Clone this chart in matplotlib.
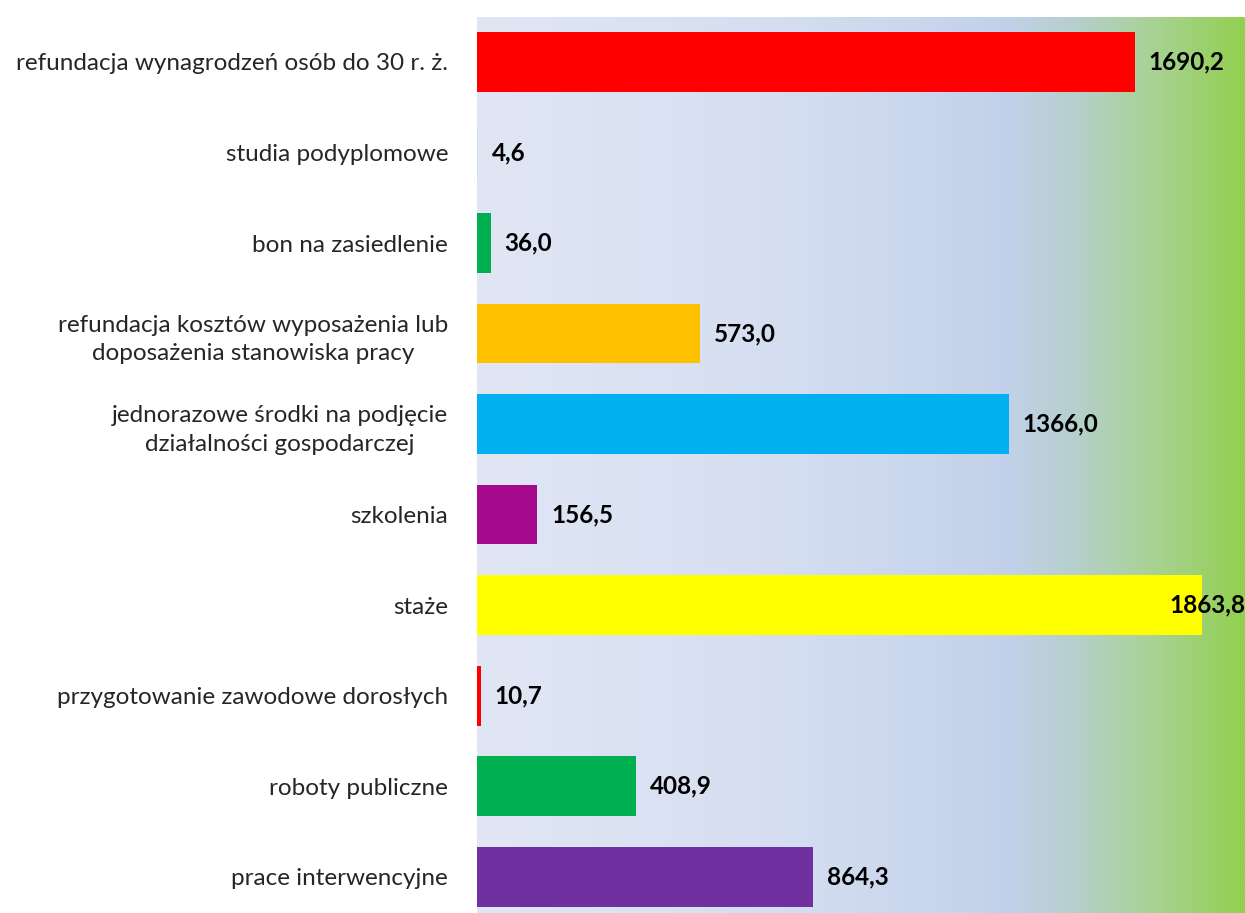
import numpy as np
import matplotlib
matplotlib.use("Agg")
import matplotlib.pyplot as plt
from matplotlib.colors import LinearSegmentedColormap

categories = [
    "refundacja wynagrodzeń osób do 30 r. ż.",
    "studia podyplomowe",
    "bon na zasiedlenie",
    "refundacja kosztów wyposażenia lub\ndoposażenia stanowiska pracy",
    "jednorazowe środki na podjęcie\ndziałalności gospodarczej",
    "szkolenia",
    "staże",
    "przygotowanie zawodowe dorosłych",
    "roboty publiczne",
    "prace interwencyjne",
]
values = [1690.2, 4.6, 36.0, 573.0, 1366.0, 156.5, 1863.8, 10.7, 408.9, 864.3]
value_labels = ["1690,2", "4,6", "36,0", "573,0", "1366,0", "156,5", "1863,8", "10,7", "408,9", "864,3"]
colors = ["#ff0000", "#d6dff1", "#00b050", "#ffc000", "#00b0f0",
          "#a50a8e", "#ffff00", "#ff0000", "#00b050", "#7030a0"]

plt.rcParams['font.family'] = ['Lato', 'DejaVu Sans']

fig = plt.figure(figsize=(12.45, 9.13), dpi=100)
W, H = 1245, 913
left_px, top_px, right_px, bottom_px = 476.5, 16.7, 1245, 922
ax = fig.add_axes([left_px / W, 1 - bottom_px / H,
                   (right_px - left_px) / W, (bottom_px - top_px) / H])

xmax = (right_px - left_px) / 0.3895
ax.set_xlim(0, xmax)
ax.set_ylim(len(categories) - 0.5, -0.5)

# gradient background
cmap = LinearSegmentedColormap.from_list("bg", [
    (0.0, "#e0e6f4"),
    (0.40, "#d5def1"),
    (0.69, "#c2d1ea"),
    (0.78, "#b6cfcc"),
    (0.87, "#aad29a"),
    (1.0, "#92d050"),
])
grad = np.linspace(0, 1, 512).reshape(1, -1)
ax.imshow(grad, cmap=cmap, aspect="auto", extent=[0, xmax, len(categories) - 0.5, -0.5],
          zorder=0, interpolation="bilinear")

y = np.arange(len(categories))
ax.barh(y, values, height=0.66, color=colors, zorder=2)

fs = 17.5
pad = 14 / 0.3895
for yi, v, lab in zip(y, values, value_labels):
    x = v + pad
    if x + 80 / 0.3895 > xmax:
        ax.text(xmax, yi, lab, ha="right", va="center", fontsize=fs,
                fontweight="bold", color="#000000", zorder=3)
    else:
        ax.text(x, yi, lab, ha="left", va="center", fontsize=fs,
                fontweight="bold", color="#000000", zorder=3)

ax.set_yticks(y)
ax.set_yticklabels(categories, fontsize=fs, color="#262626", multialignment="center",
                   linespacing=1.45)
ax.tick_params(axis="y", length=0, pad=20.5)
ax.set_xticks([])
for s in ax.spines.values():
    s.set_visible(False)

fig.savefig("out.png", dpi=100)
